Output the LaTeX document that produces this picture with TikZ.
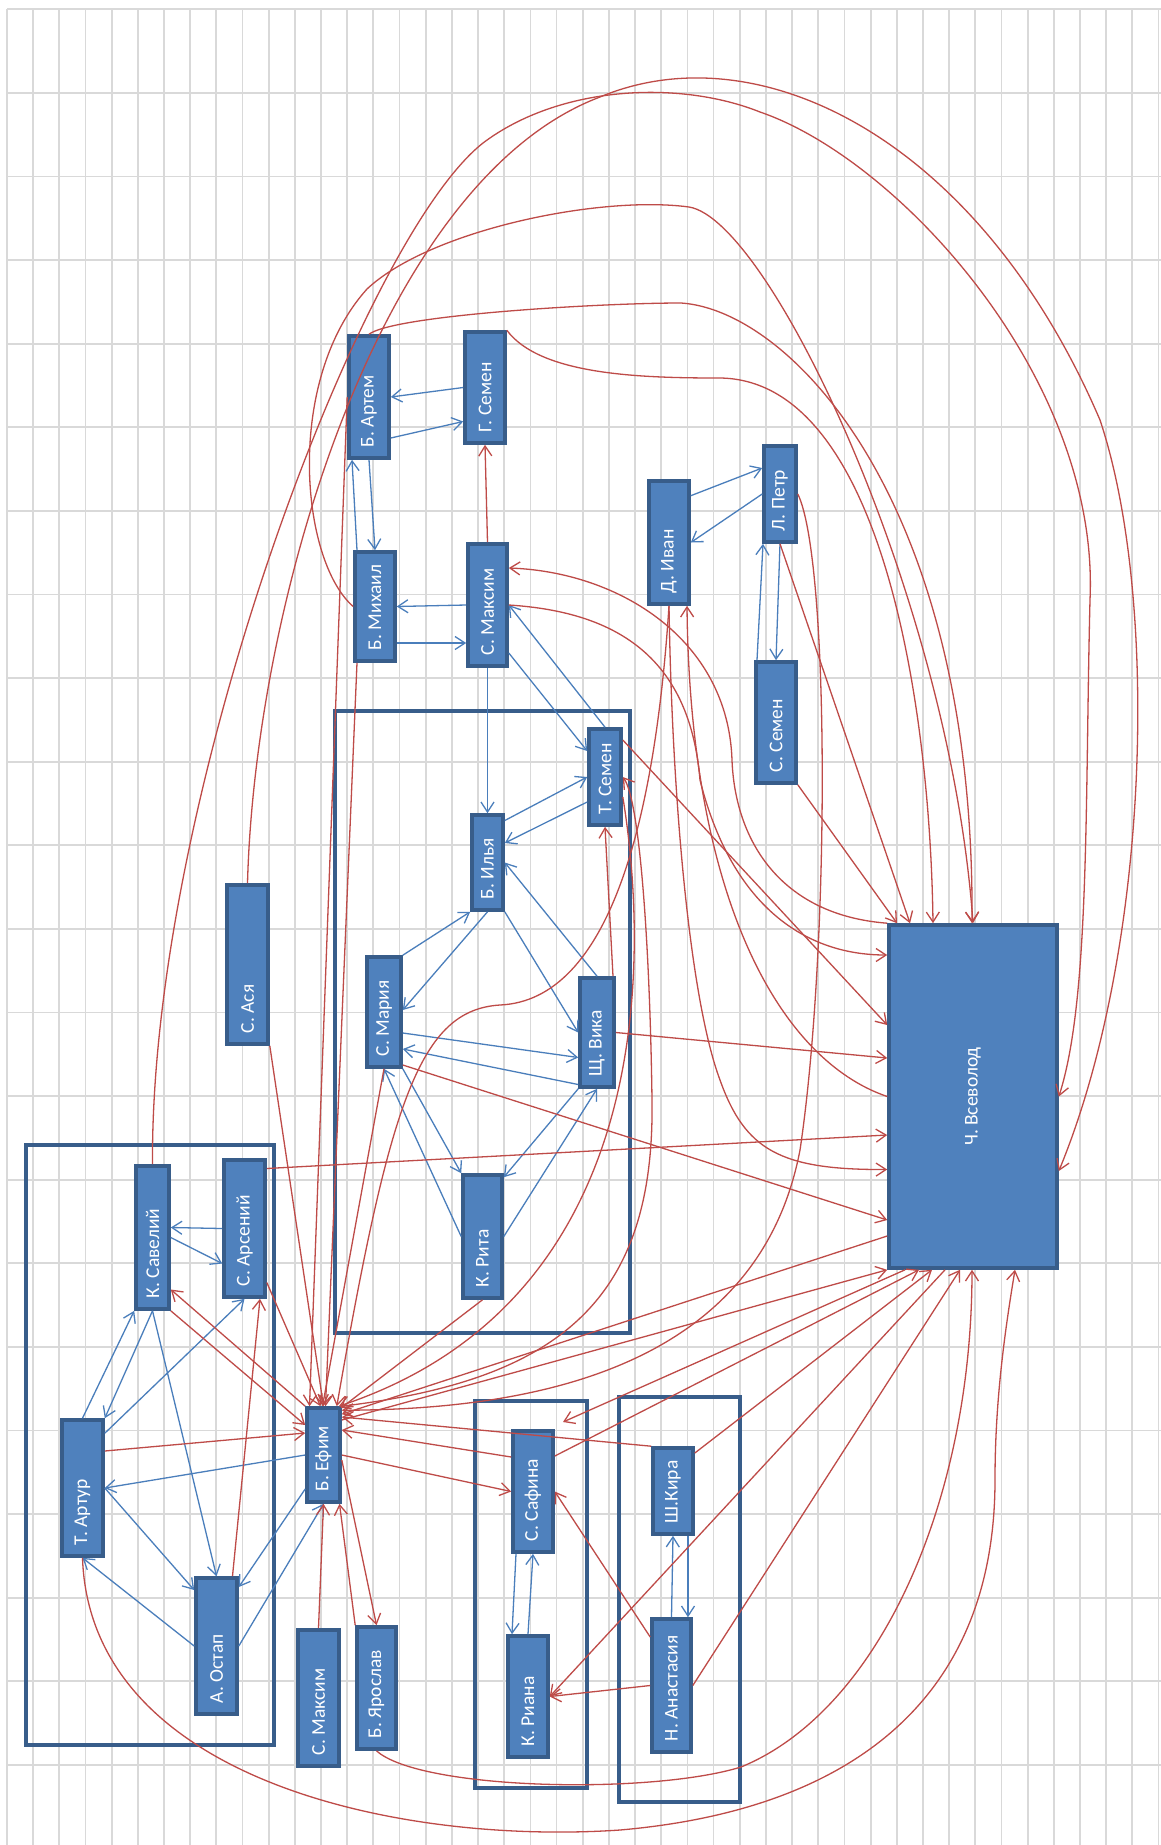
\documentclass[tikz,border=0pt]{standalone}
\usepackage{fontspec}
\setmainfont{Carlito}
\usepackage{graphicx}
\usetikzlibrary{arrows.meta}

\definecolor{boxfill}{RGB}{79,129,189}
\definecolor{boxline}{RGB}{56,93,138}
\definecolor{linkblue}{RGB}{74,126,187}
\definecolor{votered}{RGB}{190,75,72}
\definecolor{gridgray}{RGB}{217,217,217}

% rotated name, starting near the lower end of the box
\newcommand{\vlab}[2]{\rotatebox{90}{\makebox[#1][l]{#2}}}

\tikzset{
  gridline/.style={draw=gridgray, line width=1.8pt},
  cluster/.style={draw=boxline, line width=3.5pt},
  person/.style={draw=boxline, fill=boxfill, line width=3.6pt, inner sep=0pt,
    text=white, font=\fontsize{19.5}{21}\selectfont},
  link/.style={draw=linkblue, line width=1.3pt, -{Straight Barb[length=10pt,width=13pt]}},
  vote/.style={draw=votered, line width=1.3pt, -{Straight Barb[length=10pt,width=13pt]}}
}

\begin{document}
\begin{tikzpicture}[x=1pt,y=-1pt]
  \useasboundingbox (0,0) rectangle (1161,1845);
  \fill[white] (0,0) rectangle (1161,1845);

  % grid
  \foreach \i in {0,...,44}
    \draw[gridline] ({7+26.17*\i},9.3) -- ({7+26.17*\i},1845);
  \foreach \j in {0,...,21}
    \draw[gridline] (7,{9.3+83.6*\j}) -- (1161,{9.3+83.6*\j});

  % groups
  \draw[cluster] (335,711) rectangle (630,1333);
  \draw[cluster] (26,1145) rectangle (274,1745);
  \draw[cluster] (475,1401) rectangle (587,1788);
  \draw[cluster] (619,1397) rectangle (740,1802);

  % people
  \node[person, minimum width=40pt, minimum height=122pt] (artemB) at (369,397) {\vlab{100pt}{Б. Артем}};
  \node[person, minimum width=40pt, minimum height=111pt] (semenG) at (485,387.5) {\vlab{89pt}{Г. Семен}};
  \node[person, minimum width=40pt, minimum height=109pt] (mikhail) at (375,606.5) {\vlab{87pt}{Б. Михаил}};
  \node[person, minimum width=39pt, minimum height=122pt] (maksimS) at (487.5,605) {\vlab{100pt}{С. Максим}};
  \node[person, minimum width=40pt, minimum height=123pt] (ivan) at (669,542.5) {\vlab{101pt}{Д. Иван}};
  \node[person, minimum width=32pt, minimum height=96pt] (petr) at (780,494) {\vlab{74pt}{Л. Петр}};
  \node[person, minimum width=40pt, minimum height=121pt] (semenS) at (776,722.5) {\vlab{99pt}{С. Семен}};
  \node[person, minimum width=32pt, minimum height=96pt] (semenT) at (605,777) {\vlab{74pt}{Т. Семен}};
  \node[person, minimum width=31pt, minimum height=95pt] (ilya) at (487.5,862.5) {\vlab{73pt}{Б. Илья}};
  \node[person, minimum width=34pt, minimum height=110pt] (mariya) at (384,1012) {\vlab{88pt}{С. Мария}};
  \node[person, minimum width=34pt, minimum height=109pt] (vika) at (597,1032.5) {\vlab{87pt}{Щ. Вика}};
  \node[person, minimum width=39pt, minimum height=123pt] (rita) at (482.5,1236.5) {\vlab{101pt}{К. Рита}};
  \node[person, minimum width=41pt, minimum height=159pt] (asya) at (247.5,964.5) {\vlab{137pt}{С. Ася}};
  \node[person, minimum width=168pt, minimum height=343pt] (vsevolod) at (973,1096.5) {\rotatebox{90}{Ч. Всеволод}};
  \node[person, minimum width=33pt, minimum height=143pt] (saveliy) at (152.5,1237.5) {\vlab{121pt}{К. Савелий}};
  \node[person, minimum width=41pt, minimum height=137pt] (arseniy) at (244.5,1228.5) {\vlab{115pt}{С. Арсений}};
  \node[person, minimum width=33pt, minimum height=94pt] (efim) at (323.5,1455) {\vlab{72pt}{Б. Ефим}};
  \node[person, minimum width=41pt, minimum height=136pt] (artur) at (82.5,1488) {\vlab{114pt}{Т. Артур}};
  \node[person, minimum width=41pt, minimum height=136pt] (ostap) at (216.5,1646) {\vlab{114pt}{А. Остап}};
  \node[person, minimum width=41pt, minimum height=136pt] (maksimS2) at (318.5,1698) {\vlab{114pt}{С. Максим}};
  \node[person, minimum width=39pt, minimum height=122pt] (yaroslav) at (376.5,1688) {\vlab{100pt}{Б. Ярослав}};
  \node[person, minimum width=40pt, minimum height=121pt] (safina) at (533,1491.5) {\vlab{99pt}{С. Сафина}};
  \node[person, minimum width=40pt, minimum height=121pt] (riana) at (528,1696.5) {\vlab{99pt}{К. Риана}};
  \node[person, minimum width=40pt, minimum height=86pt] (kira) at (673,1491) {\vlab{64pt}{Ш.Кира}};
  \node[person, minimum width=39pt, minimum height=133pt] (anastasiya) at (671.5,1685.5) {\vlab{111pt}{Н. Анастасия}};
  \coordinate (sfend) at (563,1422);

  % blue links
  \draw[link] (semenG.west) -- (artemB.east);
  \draw[link] ([yshift=-41pt]artemB.east) -- ([yshift=-34pt]semenG.west);
  \draw[link] (artemB.south) -- (mikhail.north);
  \draw[link] ([xshift=-18pt]mikhail.north) -- ([xshift=-17pt]artemB.south);
  \draw[link] (maksimS.west) -- (mikhail.east);
  \draw[link] ([yshift=-36.5pt]mikhail.east) -- ([yshift=-38pt]maksimS.west);
  \draw[link] ([yshift=46.8pt]ivan.east) -- ([yshift=26pt]petr.west);
  \draw[link] (petr.west) -- (ivan.east);
  \draw[link] ([xshift=-19pt]semenS.north) -- ([xshift=-17pt]petr.south);
  \draw[link] (petr.south) -- (semenS.north);
  \draw[link] ([yshift=-48pt]maksimS.east) -- ([yshift=26pt]semenT.west);
  \draw[link] (semenT.north) -- (maksimS.east);
  \draw[link] (maksimS.south) -- (ilya.north);
  \draw[link] ([yshift=42pt]ilya.east) -- (semenT.west);
  \draw[link] ([yshift=-25pt]semenT.west) -- ([yshift=19.5pt]ilya.east);
  \draw[link] (mariya.north east) -- (ilya.south west);
  \draw[link] (ilya.south) -- ([yshift=2pt]mariya.east);
  \draw[link] (ilya.south east) -- (vika.west);
  \draw[link] (vika.north) -- (ilya.east);
  \draw[link] ([yshift=-21pt]mariya.east) -- ([yshift=-25pt]vika.west);
  \draw[link] ([yshift=-52pt]vika.west) -- ([yshift=-37pt]mariya.east);
  \draw[link] (rita.west) -- (mariya.south);
  \draw[link] (mariya.south east) -- (rita.north west);
  \draw[link] (rita.east) -- (vika.south);
  \draw[link] (vika.south west) -- ([yshift=-4pt]rita.north east);
  \draw[link] (arseniy.west) -- ([yshift=10pt]saveliy.east);
  \draw[link] (saveliy.east) -- ([yshift=-35pt]arseniy.west);
  \draw[link] (artur.north) -- (saveliy.south west);
  \draw[link] (saveliy.south) -- (artur.north east);
  \draw[link] ([yshift=-15pt]artur.north east) -- (arseniy.south);
  \draw[link] (saveliy.south) -- (ostap.north);
  \draw[link] (efim.west) -- (artur.east);
  \draw[link] (artur.east) -- ([yshift=56pt]ostap.west);
  \draw[link] (ostap.west) -- (artur.south);
  \draw[link] ([yshift=-34pt]efim.west) -- ([yshift=59pt]ostap.east);
  \draw[link] (ostap.east) -- (efim.south);
  \draw[link] ([xshift=-17pt]safina.south) -- ([xshift=-16pt]riana.north);
  \draw[link] (riana.north) -- (safina.south);
  \draw[link] (anastasiya.north) -- (kira.south);
  \draw[link] ([xshift=15pt]kira.south) -- ([xshift=16.5pt]anastasiya.north);

  % red votes, straight
  \draw[vote] (maksimS.north) -- (semenG.south);
  \draw[vote] ([xshift=16pt]ostap.north) -- ([xshift=15.5pt]arseniy.south);
  \draw[vote] (maksimS2.north) -- (efim.south);
  \draw[vote] (yaroslav.north west) -- ([xshift=16pt]efim.south);
  \draw[vote] ([yshift=-5pt]efim.east) -- (yaroslav.north);
  \draw[vote] ([yshift=37pt]artur.east) -- ([yshift=22pt]efim.west);
  \draw[vote] (saveliy.south east) -- ([yshift=30pt]efim.west);
  \draw[vote] (efim.north west) -- ([yshift=-52pt]saveliy.east);
  \draw[vote] ([yshift=-54pt]arseniy.east) -- ([xshift=-3pt]efim.north);
  \draw[vote] (asya.south east) -- (efim.north);
  \draw[vote] ([xshift=-18pt]mikhail.south) -- ([xshift=2pt]efim.north);
  \draw[vote] (artemB.west) -- ([xshift=-14pt]efim.north);
  \draw[vote] (mariya.south) -- ([xshift=-1pt]efim.north);
  \draw[vote] ([xshift=16pt]vika.north) -- (semenT.south);
  \draw[vote] (vika.east) -- ([yshift=38.5pt]vsevolod.west);
  \draw[vote] ([yshift=-53pt]mariya.east) -- ([yshift=-123.5pt]vsevolod.west);
  \draw[vote] ([yshift=60pt]arseniy.east) -- ([yshift=-38.5pt]vsevolod.west);
  \draw[vote] ([yshift=37pt]semenT.east) -- ([yshift=71.5pt]vsevolod.west);
  \draw[vote] (semenS.south east) -- ([xshift=-76pt]vsevolod.north);
  \draw[vote] (petr.south) -- ([xshift=-63pt]vsevolod.north);
  \draw[vote] ([yshift=-139.5pt]vsevolod.west) -- ([yshift=-8pt]efim.north east);
  \draw[vote] ([yshift=35pt]efim.east) -- (vsevolod.south west);
  \draw[vote] (rita.south) -- ([xshift=-1pt,yshift=-2pt]efim.north east);
  \draw[vote] (efim.east) -- (safina.west);
  \draw[vote] ([yshift=34.5pt]safina.west) -- ([yshift=25pt]efim.east);
  \draw[vote] (kira.north west) -- ([yshift=38pt]efim.east);
  \draw[vote] ([yshift=35.5pt]safina.east) -- ([xshift=-54pt]vsevolod.south);
  \draw[vote] ([yshift=38pt]kira.east) -- ([xshift=-41pt]vsevolod.south);
  \draw[vote] ([xshift=-68pt]vsevolod.south) -- (sfend);
  \draw[vote] ([xshift=-28pt]vsevolod.south) -- (riana.east);
  \draw[vote] (anastasiya.west) -- (riana.east);
  \draw[vote] ([yshift=48.5pt]anastasiya.west) -- (safina.east);
  \draw[vote] (anastasiya.east) -- ([xshift=-13pt]vsevolod.south);

  % red votes, curved
  \draw[vote] (ivan.south) .. controls (655,820) and (610,1000) .. (500,1005)
    .. controls (420,1010) and (390,1100) .. ([xshift=-5pt]efim.north east);
  \draw[vote] (maksimS.east) .. controls (620,612) and (690,660) .. (700,780)
    .. controls (730,900) and (800,955) .. ([yshift=141.5pt]vsevolod.west);
  \draw[vote] (vsevolod.north west) .. controls (780,915) and (735,840) .. (732,760)
    .. controls (728,640) and (620,572) .. ([yshift=37pt]maksimS.east);
  \draw[vote] (vsevolod.west) .. controls (780,1060) and (690,900) .. ([xshift=18pt]ivan.south);
  \draw[vote] (ivan.south) .. controls (672,800) and (690,1000) .. (720,1080)
    .. controls (745,1150) and (780,1170) .. ([yshift=-73pt]vsevolod.west);
  \draw[vote] (semenG.north east) .. controls (540,375) and (640,378) .. (720,378)
    .. controls (880,380) and (930,700) .. ([xshift=-40pt]vsevolod.north);
  \draw[vote] (mikhail.west) .. controls (300,560) and (285,380) .. (367,289)
    .. controls (430,230) and (600,195) .. (689,207)
    .. controls (770,220) and (950,600) .. (vsevolod.north);
  \draw[vote] (artemB.north) .. controls (395,315) and (600,303) .. (681,303)
    .. controls (790,310) and (975,500) .. ([xshift=-1pt]vsevolod.north);
  \draw[vote] (asya.north) .. controls (255,600) and (380,180) .. (600,97)
    .. controls (760,30) and (980,140) .. (1100,420)
    .. controls (1160,600) and (1150,950) .. ([yshift=-74.5pt]vsevolod.east);
  \draw[vote] (saveliy.north) .. controls (150,800) and (360,240) .. (483,143)
    .. controls (560,85) and (680,80) .. (760,112)
    .. controls (900,160) and (1100,380) .. (1090,600)
    .. controls (1085,800) and (1090,1000) .. (vsevolod.east);
  \draw[vote] (petr.east) .. controls (830,560) and (830,950) .. (800,1150)
    .. controls (760,1360) and (550,1410) .. ([yshift=-4pt]efim.north east);
  \draw[vote] (efim.north east) .. controls (560,1380) and (655,1300) .. (652,1100)
    .. controls (650,950) and (640,800) .. (semenT.east);
  \draw[vote] ([yshift=-20pt]semenT.east) .. controls (648,950) and (660,1300) .. ([xshift=-3pt]efim.north east);
  \draw[vote] (yaroslav.south) .. controls (420,1790) and (650,1795) .. (741,1767)
    .. controls (880,1710) and (972,1500) .. ([xshift=-1pt]vsevolod.south);
  \draw[vote] (artur.south) .. controls (90,1780) and (400,1845) .. (620,1830)
    .. controls (850,1810) and (995,1700) .. (995,1480)
    .. controls (995,1400) and (1005,1330) .. ([xshift=42pt]vsevolod.south);
\end{tikzpicture}
\end{document}
